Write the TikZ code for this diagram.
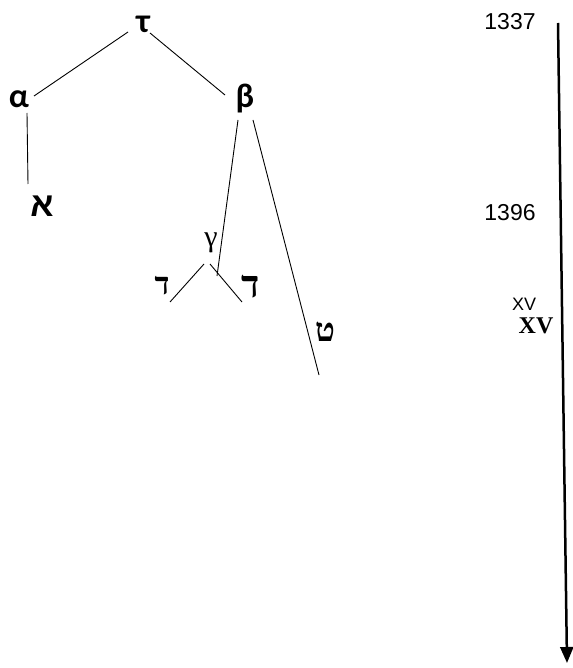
\documentclass[tikz,border=0pt]{standalone}
\usepackage{fontspec}
\setmainfont{Liberation Serif}
\newfontfamily\grk{Carlito}
\newfontfamily\hsans[Script=Hebrew]{Liberation Sans}
\newfontfamily\hserif[Script=Hebrew]{Liberation Serif}
\newfontfamily\arialf{Liberation Sans}
\usetikzlibrary{arrows.meta}
\begin{document}
\begin{tikzpicture}[x=1pt,y=-1pt,
  lbl/.style={inner sep=0pt, anchor=center},
  grlbl/.style={lbl, font=\grk\bfseries\fontsize{34}{34}\selectfont},
  hlbl/.style={lbl, font=\hserif\bfseries\fontsize{#1}{#1}\selectfont},
  yrlbl/.style={lbl, font=\arialf\fontsize{23}{23}\selectfont},
  br/.style={line width=0.9pt},
  timeline/.style={line width=2.5pt, -{Triangle[length=16pt,width=13pt]}}]
\useasboundingbox (0,0) rectangle (572,668);
% labels
\node[grlbl] (tau) at (143,24) {τ};
\node[grlbl] (alpha) at (19,99) {α};
\node[grlbl] (beta) at (245,99) {β};
\node[lbl, font=\hsans\bfseries\fontsize{34}{34}\selectfont] (alef) at (42,206) {א};
\node[lbl, font=\fontsize{30}{30}\selectfont] (gamma) at (211,243) {γ};
\node[hlbl=31] (dalL) at (162,286) {ד};
\node[hlbl=38] (dalR) at (251,287) {ד};
\node[hlbl=33] (tet) at (325,332) {ט};
\node[yrlbl] (y1337) at (510,22) {1337};
\node[yrlbl] (y1396) at (510,213) {1396};
\node[lbl, font=\arialf\fontsize{18}{18}\selectfont] (xvs) at (524,304) {XV};
\node[lbl, font=\bfseries\fontsize{24}{24}\selectfont] (xvb) at (536,326) {XV};
% line ends
\coordinate (tauL) at (128,32);
\coordinate (tauR) at (150,33);
\coordinate (alphaT) at (34,96);
\coordinate (betaT) at (225,95);
\coordinate (alphaB) at (27,113);
\coordinate (alefT) at (28,184);
\coordinate (betaBL) at (238,120);
\coordinate (gammaX) at (217,276);
\coordinate (betaBR) at (253,120);
\coordinate (tetB) at (319,375);
\coordinate (gamL) at (204,264);
\coordinate (dalLB) at (170,302);
\coordinate (gamR) at (210,264);
\coordinate (dalRB) at (242,302);
\coordinate (tTop) at (558,23);
\coordinate (tBot) at (567,663);
% connectors
\draw[br] (tauL) -- (alphaT);
\draw[br] (tauR) -- (betaT);
\draw[br] (alphaB) -- (alefT);
\draw[br] (betaBL) -- (gammaX);
\draw[br] (betaBR) -- (tetB);
\draw[br] (gamL) -- (dalLB);
\draw[br] (gamR) -- (dalRB);
\draw[timeline] (tTop) -- (tBot);
\end{tikzpicture}
\end{document}
